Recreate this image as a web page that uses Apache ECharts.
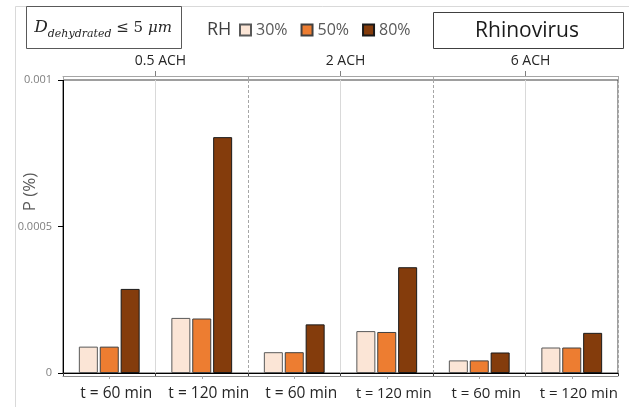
<!DOCTYPE html>
<html>
<head>
<meta charset="utf-8">
<script src="https://cdn.jsdelivr.net/npm/echarts@6/dist/echarts.min.js"></script>
<style>
html,body{margin:0;padding:0;background:#fff;}
#chart{width:629px;height:407px;}
</style>
</head>
<body>
<div id="chart"></div>
<script>
// ---- data ----
const categories = ['t = 60 min', 't = 120 min', 't = 60 min', 't = 120 min', 't = 60 min', 't = 120 min'];
const groups = ['0.5 ACH', '2 ACH', '6 ACH'];
const seriesNames = ['30%', '50%', '80%'];
const rh30 = [0.00009, 0.000188, 0.000071, 0.000143, 0.000043, 0.000087];
const rh50 = [0.00009, 0.000186, 0.000071, 0.000140, 0.000043, 0.000087];
const rh80 = [0.000287, 0.000805, 0.000166, 0.000361, 0.000070, 0.000137];
const yTicks = [0, 0.0005, 0.001];
const labelSizes = [15.5, 15.5, 15.5, 14.5, 15, 15];

const FONT = 'Open Sans';
const chart = echarts.init(document.getElementById('chart'), null, {renderer: 'canvas'});

const grid = {left: 63, right: 11, top: 80, bottom: 34, show: true, borderColor: '#3f3f3f', borderWidth: 1, containLabel: false};

const richSizes = {};
labelSizes.forEach(function (s, i) { richSizes['s' + i] = {fontSize: s, fontFamily: FONT, color: '#262626'}; });

const option = {
  animation: false,
  backgroundColor: '#fff',
  textStyle: {fontFamily: FONT},
  grid: grid,
  legend: {
    data: seriesNames,
    left: 239, top: 22, padding: 0,
    itemWidth: 11, itemHeight: 11, itemGap: 13,
    icon: 'rect',
    textStyle: {fontFamily: FONT, fontSize: 16, color: '#595959'}
  },
  xAxis: [
    { // main bar axis
      type: 'category', position: 'bottom', data: categories,
      axisLine: {show: true, lineStyle: {color: '#000', width: 1}},
      axisTick: {show: false},
      axisLabel: {
        interval: 0, margin: 13, color: '#262626', fontFamily: FONT,
        padding: [0, 0, 0, 14],
        formatter: function (v, i) { return '{s' + i + '|' + v + '}'; },
        rich: richSizes
      },
      splitLine: {show: true, interval: function (i) { return i % 2 === 1; }, lineStyle: {color: '#d9d9d9', width: 1}}
    },
    { // bottom bracket
      type: 'category', position: 'bottom', offset: 3, data: categories,
      axisLine: {show: true, lineStyle: {color: '#8c8c8c'}},
      axisTick: {show: true, interval: 0, inside: true, length: 3, lineStyle: {color: '#404040'}},
      axisLabel: {show: false}, splitLine: {show: false}
    },
    { // bottom center ticks
      type: 'category', position: 'bottom', offset: 3, data: categories,
      axisLine: {show: false},
      axisTick: {show: true, interval: 0, alignWithLabel: true, length: 3, lineStyle: {color: '#a6a6a6'}},
      axisLabel: {show: false}, splitLine: {show: false}
    },
    { // top bracket
      type: 'category', position: 'top', offset: 4, data: groups,
      axisLine: {show: true, lineStyle: {color: '#a6a6a6'}},
      axisTick: {show: true, inside: true, length: 4, lineStyle: {color: '#a6a6a6'}},
      axisLabel: {show: false},
      splitLine: {show: true, lineStyle: {color: '#a6a6a6', type: [3, 2], width: 1}}
    },
    { // top group labels
      type: 'category', position: 'top', offset: 4, data: groups,
      axisLine: {show: false},
      axisTick: {show: true, alignWithLabel: true, length: 5, lineStyle: {color: '#7f7f7f'}},
      axisLabel: {show: true, interval: 0, margin: 8, fontSize: 14, color: '#262626', fontFamily: FONT, padding: [0, 0, 0, 10]},
      splitLine: {show: false}
    }
  ],
  yAxis: {
    type: 'value', min: yTicks[0], max: yTicks[yTicks.length - 1], interval: yTicks[1] - yTicks[0],
    axisLine: {show: true, lineStyle: {color: '#000'}},
    axisTick: {show: true, length: 5, lineStyle: {color: '#000'}},
    axisLabel: {margin: 11, fontSize: 11, color: '#7f7f7f', fontFamily: FONT,
      formatter: function (v) { return String(v); }},
    splitLine: {show: false}
  },
  series: [
    {name: seriesNames[0], type: 'bar', xAxisIndex: 0, data: rh30, barWidth: 19, barGap: '10%',
      itemStyle: {color: '#FBE5D6', borderColor: '#595959', borderWidth: 1}},
    {name: seriesNames[1], type: 'bar', xAxisIndex: 0, data: rh50, barWidth: 19, barGap: '10%',
      itemStyle: {color: '#ED7D31', borderColor: '#404040', borderWidth: 1}},
    {name: seriesNames[2], type: 'bar', xAxisIndex: 0, data: rh80, barWidth: 19, barGap: '10%',
      itemStyle: {color: '#843C0C', borderColor: '#1a1a1a', borderWidth: 1}}
  ],
  graphic: [
    {type: 'rect', silent: true, z: -1, shape: {x: 15.5, y: 6.5, width: 640, height: 420}, style: {fill: 'none', stroke: '#d9d9d9', lineWidth: 1}},
    {type: 'rect', shape: {x: 26.5, y: 6.5, width: 155, height: 42}, style: {fill: '#fff', stroke: '#595959', lineWidth: 1}},
    {type: 'text', x: 103, y: 28,
      style: {
        text: '{a|D}{b|dehydrated}{c| ≤ 5 }{d|μm}',
        align: 'center', verticalAlign: 'middle',
        rich: {
          a: {fontFamily: 'DejaVu Serif', fontStyle: 'italic', fontSize: 17, lineHeight: 24, verticalAlign: 'middle', fill: '#262626'},
          b: {fontFamily: 'DejaVu Serif', fontStyle: 'italic', fontSize: 11, lineHeight: 24, verticalAlign: 'bottom', fill: '#262626'},
          c: {fontFamily: 'DejaVu Serif', fontSize: 15, lineHeight: 24, verticalAlign: 'middle', fill: '#262626'},
          d: {fontFamily: 'DejaVu Serif', fontStyle: 'italic', fontSize: 15, lineHeight: 24, verticalAlign: 'middle', fill: '#262626'}
        }
      }},
    {type: 'text', x: 207, y: 30, style: {text: 'RH', fontFamily: FONT, fontSize: 18, fill: '#404040', verticalAlign: 'middle'}},
    {type: 'rect', shape: {x: 433.5, y: 12.5, width: 190, height: 36}, style: {fill: '#fff', stroke: '#404040', lineWidth: 1}},
    {type: 'text', x: 527, y: 31, style: {text: 'Rhinovirus', fontFamily: FONT, fontSize: 21, fill: '#1a1a1a', align: 'center', verticalAlign: 'middle'}},
    {type: 'text', x: 30, y: 192, rotation: Math.PI / 2, style: {text: 'P (%)', fontFamily: FONT, fontSize: 17, fill: '#595959', align: 'center', verticalAlign: 'middle'}}
  ]
};
chart.setOption(option);
</script>
</body>
</html>
